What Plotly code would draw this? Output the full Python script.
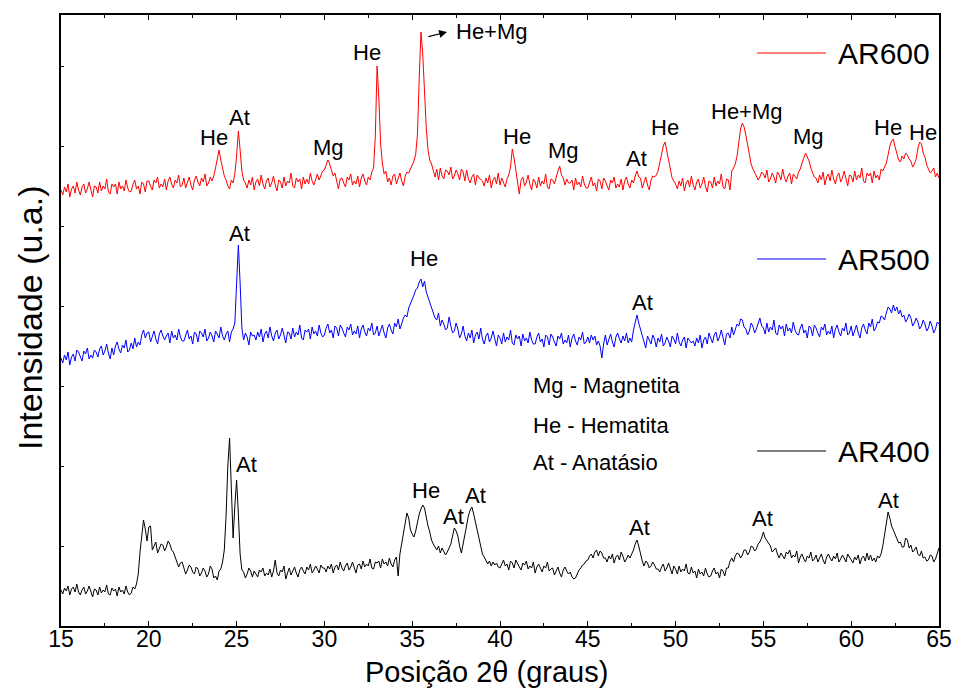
import numpy as np
import plotly.graph_objects as go

# 2-theta scan grid (degrees), 0.1 deg step from 15 to 65
two_theta = np.round(15 + 0.1 * np.arange(501), 1)

# AR600 (red) intensities, stacked offset (arb. units); one row = 1 degree
ar600 = [
    436, 431, 439, 434, 442, 429, 437, 440, 433, 444,
    436, 431, 439, 442, 433, 437, 444, 435, 429, 440,
    439, 433, 444, 435, 440, 437, 447, 434, 432, 442,
    439, 442, 432, 444, 437, 440, 435, 446, 438, 434,
    435, 442, 446, 437, 440, 432, 444, 442, 434, 445,
    445, 440, 436, 446, 443, 449, 438, 442, 439, 447,
    436, 445, 449, 442, 438, 446, 443, 451, 439, 441,
    448, 438, 445, 449, 441, 436, 446, 450, 444, 440,
    448, 444, 452, 440, 443, 449, 445, 450, 458, 468,
    476, 466, 457, 450, 446, 440, 437, 446, 443, 452,
    470, 495, 476, 455, 446, 443, 438, 446, 441, 449,
    436, 444, 447, 440, 451, 442, 437, 445, 448, 439,
    443, 450, 441, 435, 446, 444, 438, 449, 440, 445,
    443, 453, 440, 438, 448, 444, 447, 437, 449, 442,
    447, 442, 453, 445, 441, 448, 452, 446, 450, 455,
    456, 461, 466, 462, 457, 450, 453, 444, 437, 447,
    448, 443, 439, 449, 446, 452, 441, 445, 442, 450,
    439, 448, 452, 445, 441, 449, 446, 454, 458, 490,
    560, 528, 483, 463, 452, 455, 444, 448, 441, 450,
    452, 442, 449, 453, 445, 440, 450, 454, 453, 457,
    460, 465, 472, 492, 548, 594, 572, 528, 498, 476,
    466, 462, 455, 449, 457, 446, 458, 450, 447, 456,
    455, 451, 459, 447, 450, 456, 452, 446, 457, 454,
    445, 456, 447, 443, 449, 452, 441, 451, 448, 446,
    445, 440, 448, 443, 451, 438, 446, 449, 442, 453,
    441, 448, 444, 439, 447, 451, 459, 477, 468, 453,
    444, 432, 446, 449, 440, 444, 451, 442, 436, 447,
    444, 438, 449, 440, 445, 442, 452, 439, 437, 447,
    446, 442, 450, 455, 460, 451, 448, 441, 447, 443,
    443, 446, 436, 448, 441, 444, 439, 450, 442, 438,
    438, 445, 449, 440, 443, 435, 447, 445, 437, 448,
    445, 440, 436, 446, 443, 449, 438, 442, 439, 447,
    436, 445, 449, 442, 438, 446, 443, 450, 455, 449,
    448, 438, 445, 449, 441, 436, 446, 450, 449, 451,
    455, 463, 471, 480, 484, 475, 463, 454, 448, 445,
    442, 437, 445, 440, 448, 435, 443, 446, 439, 450,
    441, 436, 444, 447, 438, 442, 449, 440, 434, 445,
    444, 438, 449, 440, 445, 442, 452, 439, 437, 447,
    446, 436, 455, 458, 462, 470, 484, 497, 503, 499,
    491, 480, 469, 462, 457, 454, 450, 446, 449, 454,
    452, 448, 456, 444, 447, 453, 449, 443, 454, 451,
    446, 457, 448, 444, 450, 453, 442, 452, 449, 447,
    454, 457, 463, 468, 473, 469, 465, 458, 453, 449,
    448, 443, 451, 446, 454, 441, 449, 452, 445, 456,
    447, 442, 450, 453, 444, 448, 455, 446, 440, 451,
    450, 444, 455, 446, 451, 448, 458, 445, 443, 453,
    450, 453, 443, 455, 448, 451, 446, 457, 455, 459,
    463, 471, 480, 485, 487, 479, 471, 466, 464, 470,
    467, 473, 471, 467, 465, 459, 462, 467, 478, 484,
    482, 473, 469, 461, 457, 453, 455, 458, 449, 453,
    448,
]

# AR500 (blue)
ar500 = [
    268, 263, 271, 266, 274, 261, 269, 272, 265, 276,
    274, 269, 265, 275, 272, 278, 267, 271, 268, 276,
    274, 269, 277, 280, 271, 275, 282, 273, 267, 278,
    271, 280, 284, 277, 273, 281, 278, 286, 274, 276,
    283, 277, 288, 279, 284, 281, 291, 296, 288, 293,
    294, 284, 291, 295, 287, 282, 292, 296, 290, 286,
    290, 293, 283, 295, 288, 291, 286, 297, 289, 285,
    285, 292, 296, 287, 290, 282, 294, 292, 284, 295,
    293, 289, 297, 285, 288, 294, 290, 284, 295, 292,
    288, 299, 290, 286, 292, 295, 284, 294, 297, 303,
    340, 381, 343, 298, 286, 293, 289, 281, 294, 290,
    291, 286, 294, 289, 297, 284, 292, 295, 288, 299,
    290, 285, 293, 296, 287, 291, 298, 289, 283, 294,
    293, 287, 298, 289, 294, 291, 301, 288, 286, 296,
    294, 297, 287, 299, 292, 295, 290, 301, 293, 289,
    291, 298, 302, 293, 296, 288, 300, 298, 290, 301,
    298, 293, 289, 299, 296, 302, 291, 295, 292, 300,
    288, 297, 301, 294, 290, 298, 295, 303, 291, 293,
    300, 290, 297, 301, 293, 288, 298, 302, 296, 292,
    303, 299, 307, 297, 302, 308, 311, 309, 318, 322,
    326, 331, 336, 338, 344, 347, 339, 345, 334, 329,
    323, 318, 313, 308, 306, 313, 300, 306, 302, 296,
    298, 309, 300, 293, 295, 303, 297, 288, 292, 300,
    290, 285, 293, 288, 296, 283, 291, 294, 287, 298,
    287, 282, 290, 293, 284, 288, 295, 286, 280, 291,
    288, 282, 293, 284, 289, 286, 296, 283, 281, 291,
    287, 290, 280, 292, 285, 288, 283, 294, 286, 282,
    282, 289, 293, 284, 287, 279, 291, 289, 281, 292,
    289, 284, 280, 290, 287, 293, 282, 286, 283, 291,
    279, 288, 292, 285, 281, 289, 286, 294, 282, 284,
    289, 283, 291, 286, 290, 281, 285, 280, 268, 282,
    291, 281, 288, 292, 284, 279, 289, 293, 287, 283,
    290, 285, 293, 283, 288, 284, 296, 303, 311, 303,
    297, 289, 284, 278, 290, 286, 282, 291, 287, 279,
    288, 284, 292, 280, 283, 289, 285, 279, 290, 287,
    282, 293, 284, 280, 286, 289, 278, 288, 285, 283,
    285, 280, 288, 283, 291, 278, 286, 289, 282, 293,
    288, 283, 291, 294, 285, 289, 296, 287, 281, 292,
    293, 288, 299, 291, 296, 302, 300, 307, 306, 299,
    297, 291, 295, 303, 300, 293, 297, 304, 308, 300,
    298, 292, 303, 294, 299, 296, 306, 293, 291, 301,
    297, 300, 290, 302, 295, 298, 293, 304, 296, 292,
    291, 298, 302, 293, 296, 288, 300, 298, 290, 301,
    298, 293, 289, 299, 296, 302, 291, 295, 292, 300,
    288, 297, 301, 294, 290, 298, 295, 303, 291, 293,
    300, 290, 297, 301, 293, 288, 298, 302, 296, 292,
    303, 299, 307, 295, 298, 304, 303, 310, 309, 306,
    313, 319, 317, 313, 321, 315, 319, 312, 316, 309,
    311, 304, 307, 312, 308, 300, 303, 308, 304, 297,
    300, 306, 302, 295, 298, 305, 300, 293, 297, 304,
    302,
]

# AR400 (black)
ar400 = [
    36, 32, 38, 35, 40, 31, 37, 39, 34, 42,
    34, 31, 36, 39, 32, 35, 40, 34, 29, 37,
    36, 31, 39, 33, 36, 34, 41, 32, 31, 38,
    35, 37, 30, 39, 34, 36, 32, 40, 34, 31,
    33, 39, 37, 42, 52, 74, 93, 106, 97, 85,
    99, 100, 76, 81, 84, 73, 78, 82, 81, 75,
    79, 85, 82, 76, 74, 69, 66, 59, 63, 64,
    58, 52, 56, 61, 59, 54, 52, 59, 57, 50,
    53, 58, 55, 49, 52, 60, 57, 48, 50, 46,
    55, 57, 64, 76, 110, 160, 188, 130, 88, 120,
    146, 112, 72, 56, 54, 48, 52, 58, 55, 49,
    55, 52, 49, 56, 54, 58, 50, 53, 51, 57,
    49, 55, 66, 53, 50, 56, 54, 60, 47, 53,
    58, 51, 56, 59, 53, 49, 56, 59, 55, 52,
    59, 56, 62, 53, 56, 60, 57, 53, 61, 58,
    58, 54, 60, 57, 62, 53, 59, 61, 56, 64,
    58, 55, 60, 63, 56, 59, 64, 58, 53, 61,
    62, 57, 65, 59, 62, 60, 67, 58, 57, 64,
    63, 65, 58, 67, 62, 64, 60, 68, 62, 59,
    66, 69, 50, 72, 82, 92, 102, 113, 108, 96,
    92, 89, 95, 104, 112, 117, 121, 118, 108, 100,
    94, 86, 82, 79, 76, 80, 73, 78, 75, 71,
    74, 79, 82, 90, 98, 95, 90, 80, 73, 82,
    92, 102, 110, 116, 119, 112, 104, 96, 86, 80,
    72, 69, 66, 62, 65, 60, 64, 61, 63, 59,
    58, 63, 66, 60, 62, 56, 65, 63, 58, 66,
    62, 59, 56, 63, 61, 65, 57, 60, 58, 64,
    53, 59, 62, 57, 54, 60, 58, 64, 55, 57,
    58, 51, 56, 59, 53, 49, 56, 59, 55, 52,
    54, 49, 47, 48, 52, 56, 58, 61, 62, 65,
    66, 70, 72, 68, 74, 76, 70, 75, 73, 68,
    68, 64, 70, 67, 72, 63, 69, 71, 66, 74,
    70, 64, 67, 71, 68, 72, 76, 82, 86, 80,
    72, 65, 60, 65, 63, 58, 60, 64, 61, 57,
    57, 54, 59, 62, 55, 58, 63, 57, 52, 60,
    57, 52, 60, 54, 57, 55, 62, 53, 52, 59,
    53, 55, 48, 57, 52, 54, 50, 58, 52, 49,
    50, 55, 58, 52, 54, 48, 57, 55, 50, 58,
    58, 65, 68, 64, 70, 73, 72, 68, 71, 76,
    76, 71, 74, 80, 79, 75, 77, 82, 84, 88,
    94, 88, 85, 82, 80, 74, 76, 78, 72, 68,
    73, 70, 67, 74, 72, 76, 68, 71, 69, 75,
    63, 69, 72, 67, 64, 70, 68, 74, 65, 67,
    71, 64, 69, 72, 66, 62, 69, 72, 68, 65,
    70, 67, 73, 64, 67, 71, 68, 64, 72, 69,
    67, 63, 69, 66, 71, 62, 68, 70, 65, 73,
    66, 71, 65, 68, 64, 70, 68, 72, 80, 92,
    103, 114, 108, 100, 96, 92, 88, 83, 84, 79,
    79, 88, 86, 78, 81, 74, 76, 79, 72, 70,
    75, 68, 69, 65, 66, 71, 70, 64, 67, 72,
    78,
]

assert len(ar600) == len(two_theta) == len(ar500) == len(ar400)

series_names = ["AR600", "AR500", "AR400"]
series_colors = ["#ff0000", "#0000ff", "#000000"]
series_values = [ar600, ar500, ar400]

# Peak labels: (text, 2theta, intensity)
peak_labels = [
    ("He", 23.71, 489), ("At", 25.19, 509), ("Mg", 30.26, 479), ("He", 32.43, 574),
    ("He", 40.97, 490), ("Mg", 43.59, 476), ("At", 47.80, 468), ("He", 49.40, 499),
    ("He+Mg", 54.07, 515), ("Mg", 57.54, 490), ("He", 62.10, 499), ("He", 64.09, 494),
    ("He+Mg", 39.54, 595),
    ("At", 25.19, 393), ("He", 35.67, 368), ("At", 48.14, 324),
    ("At", 25.55, 162), ("He", 35.79, 136), ("At", 37.38, 110), ("At", 38.63, 131),
    ("At", 47.92, 99), ("At", 54.92, 108), ("At", 62.10, 126),
]

key_lines = ["Mg - Magnetita", "He - Hematita", "At - Anatásio"]
key_y = [241, 201, 164]
legend_y = [573, 367, 175]

FONT = "Liberation Sans, Arial, sans-serif"

fig = go.Figure()
for name, color, vals in zip(series_names, series_colors, series_values):
    fig.add_trace(go.Scatter(x=two_theta, y=vals, mode="lines", name=name,
                             line=dict(color=color, width=1), showlegend=False))

annotations = []
for text, xx, yy in peak_labels:
    annotations.append(dict(x=xx, y=yy, xref="x", yref="y", text=text, showarrow=False,
                            xanchor="center", yanchor="middle",
                            font=dict(family=FONT, size=22, color="black")))
# arrow next to the main He+Mg peak
annotations.append(dict(x=36.98, y=594, ax=35.84, ay=589, xref="x", yref="y",
                        axref="x", ayref="y", text="", showarrow=True,
                        arrowhead=2, arrowsize=1.3, arrowwidth=1.2, arrowcolor="black"))
for t, yy in zip(key_lines, key_y):
    annotations.append(dict(x=41.77, y=yy, xref="x", yref="y", text=t, showarrow=False,
                            xanchor="left", yanchor="middle",
                            font=dict(family=FONT, size=22, color="black")))

shapes = []
for name, color, yy in zip(series_names, series_colors, legend_y):
    shapes.append(dict(type="line", xref="x", yref="y", x0=54.64, x1=58.57, y0=yy, y1=yy,
                       line=dict(color=color, width=1)))
    annotations.append(dict(x=59.13, y=yy, xref="x", yref="y", text=name, showarrow=False,
                            xanchor="left", yanchor="middle",
                            font=dict(family=FONT, size=30, color="black")))

# axis titles
annotations.append(dict(x=0.485, y=-0.0753, xref="paper", yref="paper",
                        text="Posição 2θ (graus)", showarrow=False,
                        xanchor="center", yanchor="middle",
                        font=dict(family=FONT, size=29, color="black")))
annotations.append(dict(x=-0.0353, y=0.504, xref="paper", yref="paper",
                        text="Intensidade (u.a.)", showarrow=False, textangle=-90,
                        xanchor="center", yanchor="middle",
                        font=dict(family=FONT, size=34, color="black")))

fig.update_layout(
    width=955, height=688,
    margin=dict(l=61, r=16, t=15, b=62),
    paper_bgcolor="white", plot_bgcolor="white",
    font=dict(family=FONT, color="black"),
    annotations=annotations, shapes=shapes,
    xaxis=dict(range=[15, 65], tickvals=[15, 20, 25, 30, 35, 40, 45, 50, 55, 60, 65],
               automargin=False, ticklabelstandoff=-9,
               ticks="inside", ticklen=5, tickwidth=1, tickcolor="black",
               minor=dict(ticks="inside", ticklen=3, dtick=2.5, tickcolor="black"),
               showline=True, linewidth=2, linecolor="black", mirror="ticks",
               showgrid=False, zeroline=False,
               tickfont=dict(family=FONT, size=23, color="black")),
    yaxis=dict(range=[0, 611], showticklabels=False, ticks="inside", ticklen=3,
               tickcolor="black", dtick=80, automargin=False,
               showline=True, linewidth=2, linecolor="black", mirror=True,
               showgrid=False, zeroline=False),
)

fig.write_html("out.html")
